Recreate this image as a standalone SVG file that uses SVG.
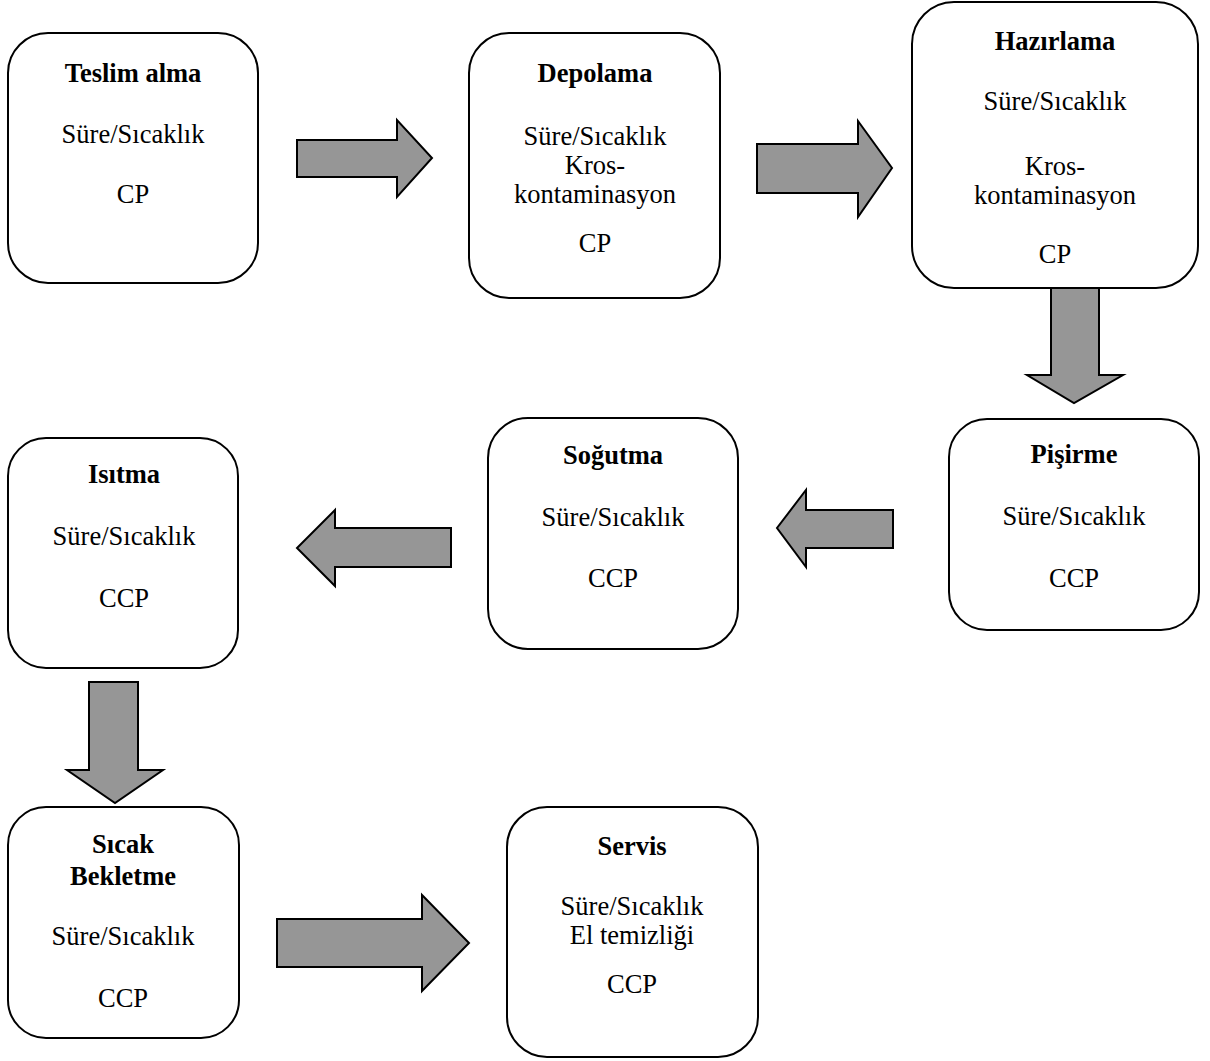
<svg xmlns="http://www.w3.org/2000/svg" width="1210" height="1061" viewBox="0 0 1210 1061">
<style>
.box{fill:#fff;stroke:#000;stroke-width:2}
.arr{fill:#969696;stroke:#000;stroke-width:2;stroke-linejoin:miter}
text{font-family:"Liberation Serif","Times New Roman",serif;font-size:26.5px;fill:#000;text-anchor:middle}
.t{font-weight:bold}
</style>
<rect width="1210" height="1061" fill="#fff"/>
<g id="connectors">
<polygon class="arr" points="297,140 397,140 397,120 432,158 397,197 397,177 297,177"/>
<polygon class="arr" points="757,144 858,144 858,121 892,168 858,217 858,193 757,193"/>
<polygon class="arr" points="1051,288 1099,288 1099,375 1123,375 1074,403 1027,375 1051,375"/>
<polygon class="arr" points="893,510 806,510 806,490 777,528 806,567 806,548 893,548"/>
<polygon class="arr" points="451,528 335,528 335,510 297,548 335,586 335,567 451,567"/>
<polygon class="arr" points="89,682 138,682 138,770 163,770 115,803 67,770 89,770"/>
<polygon class="arr" points="277,919 422,919 422,895 469,943 422,991 422,967 277,967"/>
</g>
<g id="teslim">
<rect class="box" x="8" y="33" width="250" height="250" rx="40"/>
<text class="t" x="133" y="82">Teslim alma</text>
<text x="133" y="143">Süre/Sıcaklık</text>
<text x="133" y="203">CP</text>
</g>
<g id="depolama">
<rect class="box" x="469" y="33" width="251" height="265" rx="40"/>
<text class="t" x="595" y="82">Depolama</text>
<text x="595" y="145">Süre/Sıcaklık</text>
<text x="595" y="174">Kros-</text>
<text x="595" y="203">kontaminasyon</text>
<text x="595" y="252">CP</text>
</g>
<g id="hazirlama">
<rect class="box" x="912" y="2" width="286" height="286" rx="42"/>
<text class="t" x="1055" y="50">Hazırlama</text>
<text x="1055" y="110">Süre/Sıcaklık</text>
<text x="1055" y="175">Kros-</text>
<text x="1055" y="204">kontaminasyon</text>
<text x="1055" y="263">CP</text>
</g>
<g id="pisirme">
<rect class="box" x="949" y="419" width="250" height="211" rx="38"/>
<text class="t" x="1074" y="463">Pişirme</text>
<text x="1074" y="525">Süre/Sıcaklık</text>
<text x="1074" y="587">CCP</text>
</g>
<g id="sogutma">
<rect class="box" x="488" y="418" width="250" height="231" rx="40"/>
<text class="t" x="613" y="464">Soğutma</text>
<text x="613" y="526">Süre/Sıcaklık</text>
<text x="613" y="587">CCP</text>
</g>
<g id="isitma">
<rect class="box" x="8" y="438" width="230" height="230" rx="38"/>
<text class="t" x="124" y="483">Isıtma</text>
<text x="124" y="545">Süre/Sıcaklık</text>
<text x="124" y="607">CCP</text>
</g>
<g id="sicak">
<rect class="box" x="8" y="807" width="231" height="231" rx="38"/>
<text class="t" x="123" y="853">Sıcak</text>
<text class="t" x="123" y="885">Bekletme</text>
<text x="123" y="945">Süre/Sıcaklık</text>
<text x="123" y="1007">CCP</text>
</g>
<g id="servis">
<rect class="box" x="507" y="807" width="251" height="250" rx="40"/>
<text class="t" x="632" y="855">Servis</text>
<text x="632" y="915">Süre/Sıcaklık</text>
<text x="632" y="944">El temizliği</text>
<text x="632" y="993">CCP</text>
</g>
</svg>
